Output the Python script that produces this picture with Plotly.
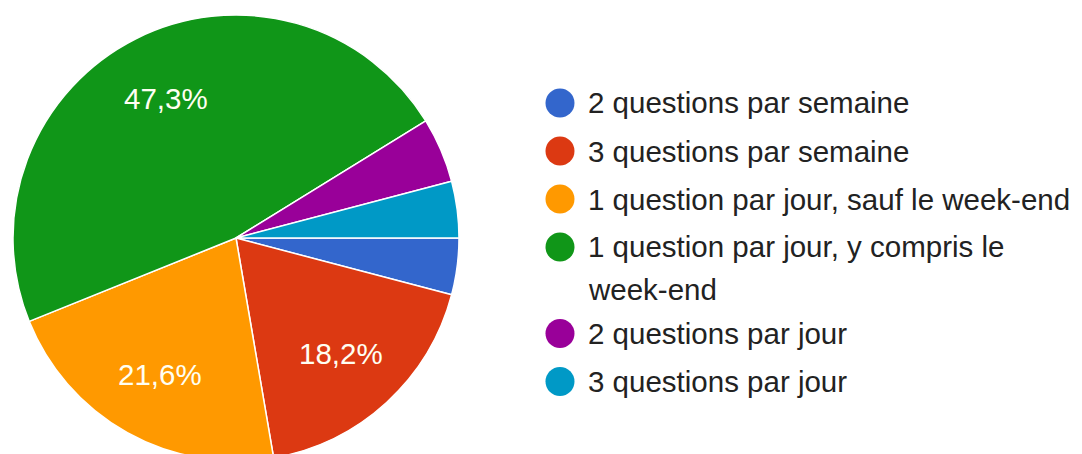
import math
import plotly.graph_objects as go

labels = [
    "2 questions par semaine",
    "3 questions par semaine",
    "1 question par jour, sauf le week-end",
    "1 question par jour, y compris le week-end",
    "2 questions par jour",
    "3 questions par jour",
]
legend_lines = [
    ["2 questions par semaine"],
    ["3 questions par semaine"],
    ["1 question par jour, sauf le week-end"],
    ["1 question par jour, y compris le", "week-end"],
    ["2 questions par jour"],
    ["3 questions par jour"],
]
values = [4.1, 18.2, 21.6, 47.3, 4.7, 4.1]
colors = ["#3366CC", "#DC3912", "#FF9900", "#109618", "#990099", "#0099C6"]

# page offset (body margin) of the rendered figure
OFF = 8
W, H = 1082, 462

# pie geometry in screen pixels
cx_s, cy_s, r = 236, 238, 223
cx, cy = cx_s - OFF, cy_s - OFF


def X(px):
    return (px - OFF) / W


def Y(py):
    return 1 - (py - OFF) / H


fig = go.Figure()
fig.add_trace(go.Pie(
    labels=labels, values=values, sort=False, direction="clockwise",
    rotation=90, textinfo="none", hoverinfo="label+percent",
    marker=dict(colors=colors, line=dict(color="white", width=1.5)),
    domain=dict(x=[(cx - r) / W, (cx + r) / W],
                y=[1 - (cy + r) / H, 1 - (cy - r) / H]),
    showlegend=False,
))

annotations = []
shapes = []
total = sum(values)
cum = 0.0
for v in values:
    frac = v / total
    if frac > 0.1:
        mid = (cum + frac / 2) * 2 * math.pi  # clockwise from 3 o'clock
        px = cx_s + 0.70 * r * math.cos(mid)
        py = cy_s + 0.70 * r * math.sin(mid)
        annotations.append(dict(
            x=X(px), y=Y(py), xref="paper", yref="paper",
            text=f"{frac*100:.1f}%".replace(".", ","), showarrow=False,
            font=dict(family="Arial, Liberation Sans", size=29.5, color="#FFFFF2"),
            xanchor="center", yanchor="middle"))
    cum += frac

# custom legend (screen pixel positions)
ly = 103.0
step = 48.0
extra = 38.5
line_h = 42.0
dot_x, dot_d, text_x = 560, 29, 586
for lines, col in zip(legend_lines, colors):
    shapes.append(dict(
        type="circle", xref="paper", yref="paper",
        x0=X(dot_x - dot_d / 2), x1=X(dot_x + dot_d / 2),
        y0=Y(ly + dot_d / 2), y1=Y(ly - dot_d / 2),
        fillcolor=col, line=dict(width=0)))
    for k, t in enumerate(lines):
        annotations.append(dict(
            x=X(text_x), y=Y(ly + k * line_h), xref="paper", yref="paper",
            text=t, showarrow=False, xanchor="left", yanchor="middle",
            font=dict(family="Arial, Liberation Sans", size=29.5, color="#222222")))
    ly += step + extra * (len(lines) - 1)

fig.update_layout(
    width=W, height=H, margin=dict(l=0, r=0, t=0, b=0),
    paper_bgcolor="white", plot_bgcolor="white",
    annotations=annotations, shapes=shapes,
)
fig.write_html("out.html")
